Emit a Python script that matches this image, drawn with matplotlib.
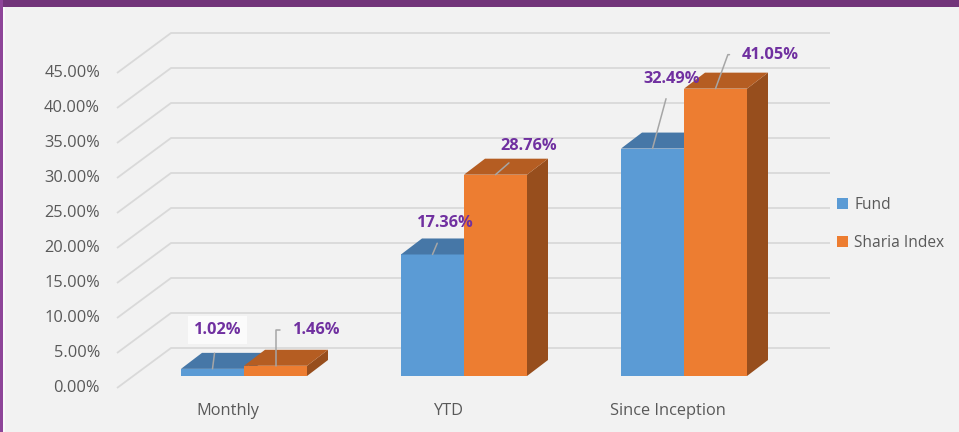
import matplotlib
matplotlib.use("Agg")
import matplotlib.pyplot as plt
from matplotlib.patches import Polygon, Patch, Rectangle

categories = ["Monthly", "YTD", "Since Inception"]
series_names = ["Fund", "Sharia Index"]
fund = [1.02, 17.36, 32.49]
sharia = [1.46, 28.76, 41.05]
yticks = [0, 5, 10, 15, 20, 25, 30, 35, 40, 45]
tick_labels = ["0.00%", "5.00%", "10.00%", "15.00%", "20.00%", "25.00%",
               "30.00%", "35.00%", "40.00%", "45.00%"]

W, H = 959, 432
plt.rcParams['font.family'] = ['Open Sans', 'DejaVu Sans']
fig = plt.figure(figsize=(W / 100, H / 100), dpi=100)
fig.patch.set_facecolor('#f2f2f2')
ax = fig.add_axes([0, 0, 1, 1])
ax.set_facecolor('#f2f2f2')
ax.axis('off')

# pixel-based geometry: category spacing and value scale
PX_X = 220.0          # pixels per category unit
PX_Y = 7.0            # pixels per percentage point
x0_px, y0_px = 244.0, 376.0
ax.set_xlim(-x0_px / PX_X, (W - x0_px) / PX_X)
ax.set_ylim(-(H - y0_px) / PX_Y, y0_px / PX_Y)

def dxp(p):
    return p / PX_X

def dyp(p):
    return p / PX_Y

# gridlines (3D floor/back wall)
front_x = dxp(117 - x0_px)
back_x = dxp(171 - x0_px)
right_x = dxp(830 - x0_px)
front_dy = dyp(-12)
back_dy = dyp(28)
grid_c = '#d9d9d9'
for v, lab in zip(yticks, tick_labels):
    ax.plot([front_x, back_x, right_x], [v + front_dy, v + back_dy, v + back_dy],
            color=grid_c, lw=1.3, zorder=1, solid_capstyle='butt')
    ax.text(dxp(100 - x0_px), v + front_dy, lab, ha='right', va='center',
            fontsize=11.8, color='#595959')

# bars
bw = 63 / PX_X
ddx, ddy = dxp(21), dyp(16)
styles = [
    dict(front='#5b9bd5', top='#4677a7', side='#3f6d9a'),
    dict(front='#ed7d31', top='#b55d22', side='#974e1d'),
]
for si, vals in enumerate([fund, sharia]):
    st = styles[si]
    xs = [i + (si - 0.5) * bw for i in range(len(categories))]
    ax.bar(xs, vals, width=bw, color=st['front'], zorder=3 + si * 2)
    for xc, v in zip(xs, vals):
        xl, xr = xc - bw / 2, xc + bw / 2
        ax.add_patch(Polygon([(xl, v), (xr, v), (xr + ddx, v + ddy), (xl + ddx, v + ddy)],
                             closed=True, facecolor=st['top'], edgecolor='none', zorder=3 + si * 2))
        ax.add_patch(Polygon([(xr, 0), (xr, v), (xr + ddx, v + ddy), (xr + ddx, ddy)],
                             closed=True, facecolor=st['side'], edgecolor='none', zorder=2 + si * 2))

# category labels
for i, c in enumerate(categories):
    ax.text(i + dxp(-16), dyp(376 - 411), c, ha='center', va='center',
            fontsize=11.8, color='#595959')

# data labels (offsets in pixels from bar front-top centre)
label_offsets = [
    [(5, 39), (13, 31), (19, 70)],
    [(41, 36), (33, 29), (55, 34)],
]
label_conn = [
    ["arc3", "arc3", "arc3"],
    ["angle,angleA=0,angleB=90,rad=0", "arc3", "angle,angleA=0,angleB=70,rad=0"],
]
for si, vals in enumerate([fund, sharia]):
    xs = [i + (si - 0.5) * bw for i in range(len(categories))]
    for j, (xc, v) in enumerate(zip(xs, vals)):
        off = label_offsets[si][j]
        bbox = None
        if si == 0 and j == 0:
            bbox = dict(boxstyle='square,pad=0.35', facecolor='white', edgecolor='none', alpha=0.75)
        ax.annotate(f"{v:.2f}%", xy=(xc, v), xytext=off, textcoords='offset pixels',
                    ha='center', va='center', fontsize=11.8, fontweight='bold',
                    color='#7030a0', zorder=10, bbox=bbox,
                    arrowprops=dict(arrowstyle='-', color='#a6a6a6', lw=1.1,
                                    shrinkA=7, shrinkB=0,
                                    connectionstyle=label_conn[si][j]))

# legend
handles = [Patch(facecolor=styles[0]['front']), Patch(facecolor=styles[1]['front'])]
leg = ax.legend(handles, series_names, loc='center left',
                bbox_to_anchor=(823 / W, 1 - 224 / H), bbox_transform=fig.transFigure,
                frameon=False, fontsize=11.2, handlelength=0.7, handleheight=0.7,
                handletextpad=0.4, labelspacing=1.45)
for t in leg.get_texts():
    t.set_color('#595959')

# frame decorations
fig.add_artist(Rectangle((0, 1 - 7 / H), 1, 7 / H, transform=fig.transFigure,
                         facecolor='#72357a', edgecolor='none'))
fig.add_artist(Rectangle((0, 0), 3 / W, 1, transform=fig.transFigure,
                         facecolor='#8e4599', edgecolor='none'))
fig.add_artist(Rectangle((3 / W, 0), 2 / W, 1 - 7 / H, transform=fig.transFigure,
                         facecolor='#fafafa', edgecolor='none'))

fig.savefig('out.png', dpi=100, facecolor=fig.get_facecolor())
